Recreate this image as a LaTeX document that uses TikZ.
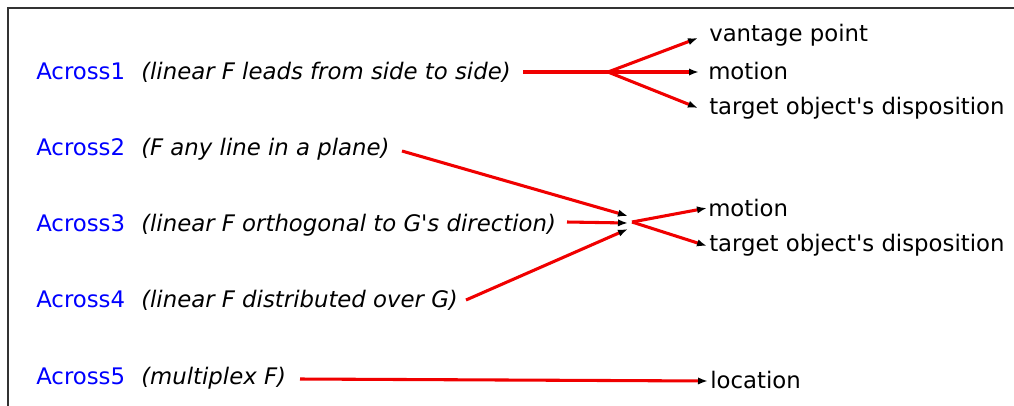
\documentclass[tikz,border=0pt]{standalone}
\usepackage{fontspec}
\setmainfont{DejaVu Sans}
\usetikzlibrary{arrows.meta}
\begin{document}
\begin{tikzpicture}[x=0.75pt,y=-0.75pt,
  lbl/.style={anchor=base west,inner sep=0pt,font=\fontsize{17.1}{20}\selectfont},
  key/.style={lbl,text={rgb,255:red,0;green,0;blue,255}},
  desc/.style={lbl,font=\fontsize{17.1}{20}\selectfont\itshape},
  conn/.style={draw={rgb,255:red,240;green,0;blue,0},line width=2.3pt},
  arr/.style={conn,-{Latex[length=7.5pt,width=5.5pt,color=black]}}]
\useasboundingbox (0,0) rectangle (1014,405);
\clip (0,0) rectangle (1014,405);
\draw[line width=1.1pt,draw={rgb,255:red,50;green,50;blue,50}] (8,8) rectangle (1030,420);

\node[key] (k1) at (36,79) {Across1};
\node[key] (k2) at (36,155) {Across2};
\node[key] (k3) at (36,231) {Across3};
\node[key] (k4) at (36,307) {Across4};
\node[key] (k5) at (36,384) {Across5};
\node[desc] (d1) at (141,79) {(linear F leads from side to side)};
\node[desc] (d2) at (141,155) {(F any line in a plane)};
\node[desc] (d3) at (141,231) {(linear F orthogonal to G\textquotesingle s direction)};
\node[desc] (d4) at (141,307) {(linear F distributed over G)};
\node[desc] (d5) at (141,384) {(multiplex F)};

\node[lbl] (r1) at (709,41) {vantage point};
\node[lbl] (r2) at (708,79) {motion};
\node[lbl] (r3) at (709,114) {target object\textquotesingle s disposition};
\node[lbl] (r4) at (708,216) {motion};
\node[lbl] (r5) at (709,251) {target object\textquotesingle s disposition};
\node[lbl] (r6) at (710,388) {location};

\coordinate (s1) at (523,72);
\coordinate (j1) at (608,72);
\coordinate (e1) at (698,38);
\coordinate (e2) at (699,72);
\coordinate (e3) at (698,108);
\coordinate (s2) at (402,151);
\coordinate (s3) at (567,222);
\coordinate (s4) at (466,300);
\coordinate (m2) at (628,216);
\coordinate (m3) at (628,223);
\coordinate (m4) at (628,229);
\coordinate (j2) at (632,222);
\coordinate (e4) at (707,208);
\coordinate (e5) at (707,246);
\coordinate (s5) at (300,379);
\coordinate (e6) at (708,381);

\draw[conn] (s1) -- (j1);
\draw[arr] (j1) -- (e1);
\draw[arr] (j1) -- (e2);
\draw[arr] (j1) -- (e3);
\draw[arr] (s2) -- (m2);
\draw[arr] (s3) -- (m3);
\draw[arr] (s4) -- (m4);
\draw[arr] (j2) -- (e4);
\draw[arr] (j2) -- (e5);
\draw[arr] (s5) -- (e6);
\end{tikzpicture}
\end{document}
